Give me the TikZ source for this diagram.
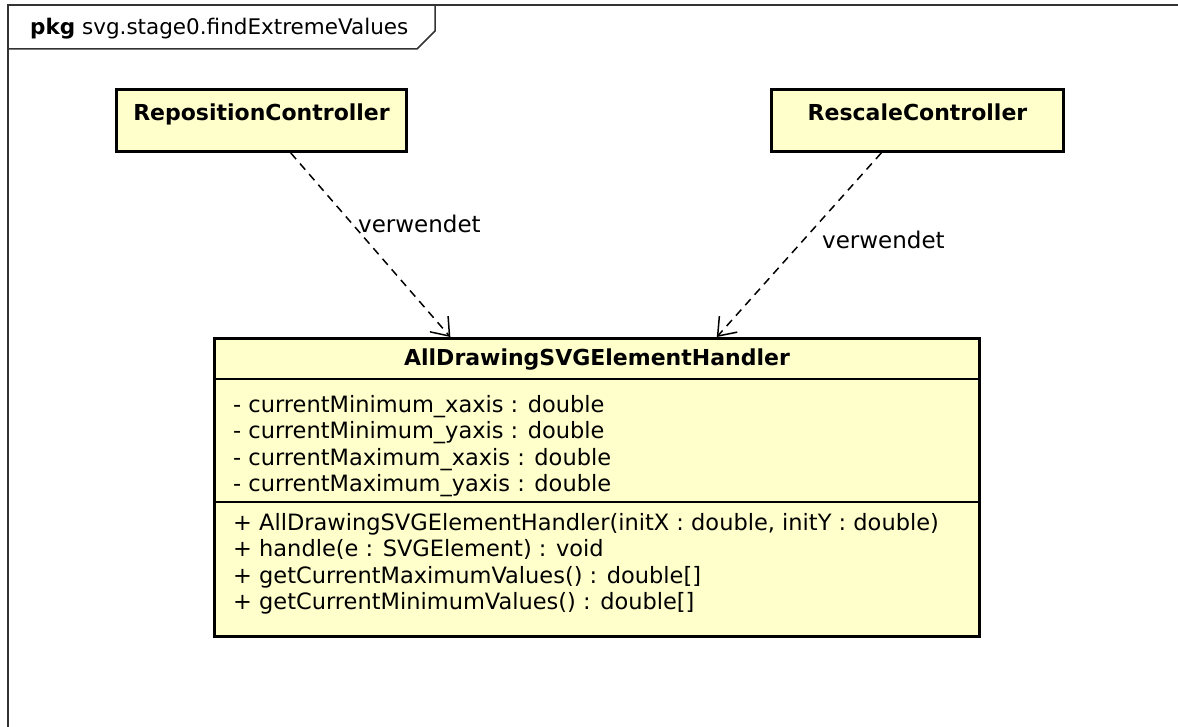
\documentclass[tikz,border=0pt]{standalone}
\usepackage{fontspec}
\setmainfont{DejaVu Sans}
\usetikzlibrary{arrows.meta,calc}
\definecolor{classfill}{HTML}{FFFFCC}
\definecolor{framecol}{HTML}{333333}
\tikzset{
  classbox/.style={draw=black, line width=3pt, fill=classfill, rectangle, inner sep=0pt},
  classname/.style={font=\fontsize{22}{26}\selectfont\bfseries, inner sep=0pt, anchor=base},
  member/.style={font=\fontsize{22.5}{26}\selectfont, inner sep=0pt, anchor=base west},
  dep/.style={draw=black, line width=1.5pt, dash pattern=on 8pt off 6pt,
    -{Straight Barb[length=16pt,width=24pt,line width=1.5pt]}},
  deplabel/.style={font=\fontsize{23}{26}\selectfont, anchor=west, inner sep=0pt},
  frameline/.style={draw=framecol, line width=1.5pt}
}
\begin{document}
\begin{tikzpicture}[x=1pt,y=-1pt]
\useasboundingbox (0,0) rectangle (1178,727);
% package frame and name tab
\draw[frameline] (1178,5) -- (8,5) -- (8,727);
\draw[frameline] (8,49) -- (417,49) -- (435,31) -- (435,5);
\node[anchor=base west, inner sep=0pt, font=\fontsize{21.5}{24}\selectfont] (pkg) at (30,35)
  {\textbf{pkg} svg.stage0.findExtremeValues};

% controller classes
\node[classbox, anchor=north west, minimum width=290pt, minimum height=62pt] (rep) at (115,88) {};
\node[classname] (repname) at ($(rep.north)+(0,33)$) {RepositionController};
\node[classbox, anchor=north west, minimum width=292pt, minimum height=62pt] (res) at (770,88) {};
\node[classname] (resname) at ($(res.north)+(0,33)$) {RescaleController};

% handler class with its two compartments
\node[classbox, anchor=north west, minimum width=765pt, minimum height=298pt] (h) at (213,337) {};
\node[classname] (hname) at ($(h.north)+(0,28)$) {AllDrawingSVGElementHandler};
\draw[black, line width=1.2pt] ($(h.north west)+(0,42)$) coordinate (s1a) -- ($(h.north east)+(0,42)$) coordinate (s1b);
\draw[black, line width=1.2pt] ($(h.north west)+(0,165)$) coordinate (s2a) -- ($(h.north east)+(0,165)$) coordinate (s2b);

\node[member] (a1) at ($(h.north west)+(20,75)$)    {- currentMinimum\_xaxis : double};
\node[member] (a2) at ($(h.north west)+(20,101.5)$) {- currentMinimum\_yaxis : double};
\node[member] (a3) at ($(h.north west)+(20,128)$)   {- currentMaximum\_xaxis : double};
\node[member] (a4) at ($(h.north west)+(20,154.5)$) {- currentMaximum\_yaxis : double};

\node[member] (o1) at ($(h.north west)+(20,193)$)   {+ AllDrawingSVGElementHandler(initX : double, initY : double)};
\node[member] (o2) at ($(h.north west)+(20,219.5)$) {+ handle(e : SVGElement) : void};
\node[member] (o3) at ($(h.north west)+(20,246)$)   {+ getCurrentMaximumValues() : double[]};
\node[member] (o4) at ($(h.north west)+(20,272.5)$) {+ getCurrentMinimumValues() : double[]};

% dependencies
\coordinate (repout) at ($(rep.south west)!0.6!(rep.south east)$);
\coordinate (resout) at ($(res.south west)!0.377!(res.south east)$);
\coordinate (hin1) at ($(h.north west)!0.309!(h.north east)$);
\coordinate (hin2) at ($(h.north west)!0.656!(h.north east)$);
\draw[dep] (repout) -- (hin1);
\draw[dep] (resout) -- (hin2);
\node[deplabel] (lab1) at (358,224) {verwendet};
\node[deplabel] (lab2) at (822,240) {verwendet};
\end{tikzpicture}
\end{document}
